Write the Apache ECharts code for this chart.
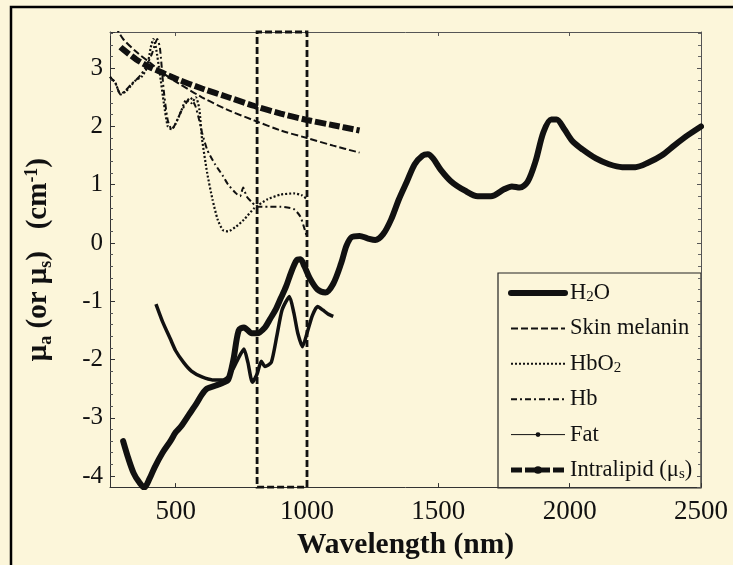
<!DOCTYPE html>
<html><head><meta charset="utf-8">
<script src="https://cdn.jsdelivr.net/npm/echarts@6/dist/echarts.min.js"></script>
<style>html,body{margin:0;padding:0;background:#fcf6da}#c{width:733px;height:565px}</style>
</head><body><div id="c"></div><script>
// ---- data (log10 of coefficient, cm^-1) ----
const h2oWl  = [300,320,340,360,380,400,420,450,480,500,520,550,580,600,620,650,680,700,720,740,760,790,810,840,860,880,900,920,940,960,975,990,1010,1040,1070,1100,1130,1150,1170,1200,1230,1260,1290,1320,1350,1380,1410,1440,1460,1480,1510,1550,1600,1650,1700,1750,1780,1810,1840,1870,1900,1930,1950,1980,2010,2050,2100,2150,2200,2250,2300,2350,2400,2450,2500];
const h2oVal = [-3.40,-3.70,-3.95,-4.10,-4.20,-4.05,-3.85,-3.60,-3.40,-3.25,-3.15,-2.95,-2.75,-2.60,-2.50,-2.45,-2.40,-2.35,-2.00,-1.50,-1.45,-1.55,-1.55,-1.45,-1.30,-1.15,-0.95,-0.75,-0.50,-0.30,-0.28,-0.40,-0.60,-0.80,-0.85,-0.70,-0.35,-0.05,0.10,0.12,0.08,0.05,0.15,0.40,0.75,1.05,1.35,1.50,1.52,1.45,1.25,1.05,0.90,0.80,0.80,0.92,0.97,0.95,1.05,1.40,1.90,2.12,2.12,1.95,1.75,1.60,1.45,1.35,1.30,1.30,1.38,1.50,1.68,1.85,2.00];

const melaninWl  = [270,300,350,400,450,500,600,700,800,900,1000,1100,1200];
const melaninVal = [3.72,3.50,3.28,3.10,2.92,2.77,2.50,2.28,2.10,1.93,1.80,1.67,1.55];

const hbo2Wl  = [250,270,290,310,330,350,370,390,405,415,425,440,455,470,485,500,520,540,560,577,590,600,620,640,660,680,700,730,760,800,850,900,950,980,1000];
const hbo2Val = [2.85,2.75,2.55,2.60,2.70,2.80,2.85,3.00,3.35,3.50,3.35,2.90,2.40,2.00,1.95,2.05,2.25,2.45,2.40,2.50,2.30,1.80,1.20,0.75,0.40,0.22,0.20,0.28,0.40,0.60,0.75,0.83,0.85,0.82,0.75];

const hbWl  = [250,270,290,310,330,350,370,390,410,430,440,455,470,485,500,520,540,555,575,590,600,620,650,680,700,730,745,757,770,790,810,850,900,950,975,990,1000];
const hbVal = [2.85,2.75,2.55,2.62,2.72,2.80,2.90,3.05,3.25,3.50,3.35,2.60,2.10,1.95,2.05,2.25,2.40,2.50,2.35,2.10,1.90,1.60,1.35,1.15,1.00,0.85,0.80,0.95,0.80,0.70,0.62,0.62,0.62,0.58,0.45,0.25,0.10];

const fatWl  = [425,450,480,500,530,560,600,640,680,700,720,742,760,775,792,810,826,840,864,885,905,933,950,965,983,1000,1020,1040,1060,1080,1100];
const fatVal = [-1.05,-1.35,-1.65,-1.85,-2.05,-2.20,-2.30,-2.35,-2.35,-2.30,-2.15,-1.95,-1.82,-2.05,-2.39,-2.25,-2.03,-2.12,-2.05,-1.60,-1.15,-0.92,-1.20,-1.55,-1.78,-1.55,-1.25,-1.09,-1.15,-1.22,-1.26];

const lipidWl  = [290,300,350,400,450,500,600,700,800,900,1000,1100,1200];
const lipidVal = [3.36,3.32,3.15,3.02,2.92,2.82,2.65,2.50,2.35,2.22,2.11,2.02,1.93];

const windowRange = [810, 1000];          // dashed NIR window
const xTickLabels = [500, 1000, 1500, 2000, 2500];
const yTickLabels = [-4, -3, -2, -1, 0, 1, 2, 3];

const seriesNames = ['H2O', 'Skin melanin', 'HbO2', 'Hb', 'Fat', 'Intralipid (\u03bcs)'];

// ---- build ----
const zip = (a, b) => a.map((v, i) => [v, b[i]]);
const INK = '#111';
const SERIF = '"Liberation Serif", "Times New Roman", serif';
const BG = '#fcf6da';
const X_MIN = 250, X_MAX = 2500, Y_MIN = -4.19, Y_MAX = 3.62;
// symbols: an invisible bounding box keeps the dot small inside the legend icon box
const SMALL_DOT = 'path://M0 0M20 20M5 10a5 5 0 1 0 10 0a5 5 0 1 0 -10 0z';
const MID_DOT   = 'path://M0 0M20 20M2 10a8 8 0 1 0 16 0a8 8 0 1 0 -16 0z';

const chart = echarts.init(document.getElementById('c'), null, {renderer: 'canvas'});

const base = {type: 'line', showSymbol: false, smooth: 0.3, silent: true, animation: false, clip: true};
const noDot = {opacity: 0};

const option = {
  backgroundColor: BG,
  animation: false,
  grid: {left: 110, top: 32, right: 32, bottom: 77, show: false},
  xAxis: [{
    type: 'value', min: X_MIN, max: X_MAX, splitNumber: 5,
    axisLine: {onZero: false, lineStyle: {color: '#333', width: 1}},
    axisTick: {inside: true, length: 4, lineStyle: {color: '#333'}},
    splitLine: {show: false},
    axisLabel: {
      margin: 11, color: '#111', fontFamily: SERIF, fontSize: 27,
      formatter: v => (xTickLabels.indexOf(v) >= 0 ? String(v) : '')
    },
    name: 'Wavelength (nm)', nameLocation: 'middle', nameGap: 39,
    nameTextStyle: {fontFamily: SERIF, fontWeight: 'bold', fontSize: 29.5, color: '#111'}
  }, {
    type: 'value', position: 'top', min: X_MIN, max: X_MAX, splitNumber: 5,
    axisLine: {onZero: false, lineStyle: {color: '#555', width: 1}},
    axisTick: {inside: true, length: 4, lineStyle: {color: '#555'}},
    axisLabel: {show: false}, splitLine: {show: false}
  }],
  yAxis: [{
    type: 'value', min: Y_MIN, max: Y_MAX, splitNumber: 8,
    axisLine: {show: true, onZero: false, lineStyle: {color: '#333', width: 1}},
    axisTick: {show: true, inside: true, length: 5, lineStyle: {color: '#333'}},
    minorTick: {show: true, splitNumber: 5, length: 3, lineStyle: {color: '#555'}},
    splitLine: {show: false},
    axisLabel: {
      margin: 7, color: '#111', fontFamily: SERIF, fontSize: 25,
      formatter: v => (yTickLabels.indexOf(Math.round(v * 100) / 100) >= 0 ? String(Math.round(v)) : '')
    },
    name: '\u03bc{sub|a} (or \u03bc{sub|s})   (cm{sup|-1})',
    nameLocation: 'middle', nameGap: 55, nameRotate: 90,
    nameTextStyle: {
      fontFamily: SERIF, fontWeight: 'bold', fontSize: 29, color: '#111', lineHeight: 32,
      rich: {
        sub: {fontFamily: SERIF, fontWeight: 'bold', fontSize: 18, color: '#111', verticalAlign: 'bottom', lineHeight: 16},
        sup: {fontFamily: SERIF, fontWeight: 'bold', fontSize: 18, color: '#111', verticalAlign: 'top', lineHeight: 16}
      }
    }
  }, {
    type: 'value', position: 'right', min: Y_MIN, max: Y_MAX, splitNumber: 8,
    axisLine: {show: true, onZero: false, lineStyle: {color: '#555', width: 1}},
    axisTick: {show: true, inside: true, length: 4, lineStyle: {color: '#555'}},
    minorTick: {show: true, splitNumber: 5, length: 3, lineStyle: {color: '#666'}},
    axisLabel: {show: false}, splitLine: {show: false}
  }],
  legend: {
    orient: 'vertical', left: 508, top: 281, padding: 0,
    itemWidth: 54, itemHeight: 12, itemGap: 11.4,
    data: [
      {name: seriesNames[0], itemStyle: noDot, lineStyle: {width: 6}},
      {name: seriesNames[1], itemStyle: noDot, lineStyle: {width: 2}},
      {name: seriesNames[2], itemStyle: noDot, lineStyle: {width: 2}},
      {name: seriesNames[3], itemStyle: noDot, lineStyle: {width: 2}},
      {name: seriesNames[4], lineStyle: {width: 1}},
      {name: seriesNames[5], lineStyle: {width: 5}}
    ],
    formatter: n => ({'H2O': 'H{sub|2}O', 'HbO2': 'HbO{sub|2}', 'Intralipid (\u03bcs)': 'Intralipid (\u03bc{sub|s})'}[n] || n),
    textStyle: {
      fontFamily: SERIF, fontSize: 22.5, color: '#111', lineHeight: 24,
      rich: {sub: {fontFamily: SERIF, fontSize: 15, color: '#111', verticalAlign: 'bottom', lineHeight: 14}}
    },
    selectedMode: false
  },
  graphic: [
    {type: 'rect', silent: true, z: 100, shape: {x: 11, y: 7, width: 760, height: 600},
     style: {fill: 'none', stroke: '#000', lineWidth: 2.5}},
    {type: 'rect', silent: true, z: 0, shape: {x: 498, y: 273, width: 203, height: 215},
     style: {fill: 'none', stroke: '#222', lineWidth: 1.2}}
  ],
  series: [
    Object.assign({}, base, {
      name: seriesNames[0], data: zip(h2oWl, h2oVal), symbol: 'none',
      lineStyle: {color: INK, width: 6, type: 'solid', cap: 'round', join: 'round'},
      itemStyle: {color: INK},
      markArea: {
        silent: true,
        itemStyle: {color: 'rgba(0,0,0,0)', borderColor: INK, borderWidth: 2.8, borderType: [7, 3]},
        data: [[{xAxis: windowRange[0]}, {xAxis: windowRange[1]}]]
      }
    }),
    Object.assign({}, base, {
      name: seriesNames[1], data: zip(melaninWl, melaninVal), symbol: 'none',
      lineStyle: {color: INK, width: 2, type: [7, 3]}, itemStyle: {color: INK}
    }),
    Object.assign({}, base, {
      name: seriesNames[2], data: zip(hbo2Wl, hbo2Val), symbol: 'none', smooth: 0.2,
      lineStyle: {color: INK, width: 2.2, type: [2, 2]}, itemStyle: {color: INK}
    }),
    Object.assign({}, base, {
      name: seriesNames[3], data: zip(hbWl, hbVal), symbol: 'none', smooth: 0.2,
      lineStyle: {color: INK, width: 2, type: [6, 3, 2, 3]}, itemStyle: {color: INK}
    }),
    Object.assign({}, base, {
      name: seriesNames[4], data: zip(fatWl, fatVal), symbol: SMALL_DOT, symbolSize: 5, smooth: 0.2,
      lineStyle: {color: INK, width: 3.5, type: 'solid', join: 'round'}, itemStyle: {color: INK}
    }),
    Object.assign({}, base, {
      name: seriesNames[5], data: zip(lipidWl, lipidVal), symbol: MID_DOT, symbolSize: 8,
      lineStyle: {color: INK, width: 6, type: [11, 3]}, itemStyle: {color: INK}
    })
  ]
};
chart.setOption(option);
</script></body></html>
